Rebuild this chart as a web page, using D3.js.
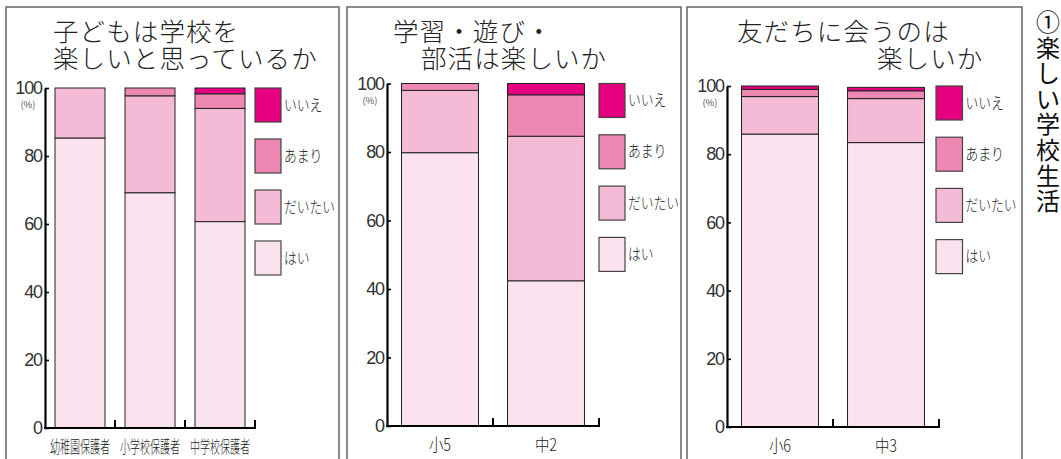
<!DOCTYPE html>
<html><head><meta charset="utf-8">
<script src="https://cdn.jsdelivr.net/npm/d3@7"></script>
<style>
html,body{margin:0;padding:0;background:#fff;}
body{position:relative;width:1061px;height:459px;overflow:hidden;}
svg{display:block;}
.ttl{position:absolute;white-space:pre;font-family:'Noto Sans CJK JP',sans-serif;
  font-size:25.5px;line-height:27px;font-weight:300;letter-spacing:1.1px;color:#222;}
#side{position:absolute;left:1035px;top:8px;width:26px;font-family:'Noto Sans CJK JP',sans-serif;
  font-size:24px;line-height:25.6px;text-align:center;word-break:break-all;white-space:normal;color:#111;}
</style>
</head><body>
<svg id="chart" width="1061" height="459"></svg>
<div id="side"></div>
<script>
// ---- data ----
const seriesKeys = ["はい", "だいたい", "あまり", "いいえ"];
const legendLabels = ["いいえ", "あまり", "だいたい", "はい"];
const yTicks = [0, 20, 40, 60, 80, 100];

const p1Title = ["子どもは学校を", "楽しいと思っているか"];
const p1Categories = ["幼稚園保護者", "小学校保護者", "中学校保護者"];
const p1Hai    = [85.3, 69.2, 60.7];
const p1Daitai = [14.7, 28.5, 33.3];
const p1Amari  = [0.0, 2.3, 4.3];
const p1Iie    = [0.0, 0.0, 1.7];

const p2Title = ["学習・遊び・", "部活は楽しいか"];
const p2Categories = ["小5", "中2"];
const p2Hai    = [79.8, 42.4];
const p2Daitai = [18.2, 42.2];
const p2Amari  = [2.0, 12.1];
const p2Iie    = [0.0, 3.3];

const p3Title = ["友だちに会うのは", "楽しいか"];
const p3Categories = ["小6", "中3"];
const p3Hai    = [85.9, 83.4];
const p3Daitai = [11.0, 12.9];
const p3Amari  = [2.1, 2.3];
const p3Iie    = [1.0, 1.0];

const sideTitle = "①楽しい学校生活";

// ---- styles ----
const colors = {"はい": "#fae3ee", "だいたい": "#f5bbd6", "あまり": "#ed88b2", "いいえ": "#e4007f"};
const jp = "'Noto Sans CJK JP', sans-serif";
const num = "'Liberation Sans', Arial, sans-serif";
const ink = "#222";

const svg = d3.select("#chart");
const body = d3.select("body");

const panels = [
  {title: p1Title, cats: p1Categories, vals: [p1Hai, p1Daitai, p1Amari, p1Iie],
   frame: [6, 339], ax: [45, 255], yr: [428, 88], pad: 2/7,
   titleX: [53, 53], legX: 255, legY: 88, legStep: 51, legW: 26, legH: 34,
   catFs: 17, catScale: 0.59},
  {title: p2Title, cats: p2Categories, vals: [p2Hai, p2Daitai, p2Amari, p2Iie],
   frame: [347, 681], ax: [387, 599], yr: [426, 83.5], pad: 0.274,
   titleX: [393, 421], legX: 599, legY: 83.5, legStep: 51.3, legW: 26, legH: 34,
   catFs: 17, catScale: 0.85},
  {title: p3Title, cats: p3Categories, vals: [p3Hai, p3Daitai, p3Amari, p3Iie],
   frame: [687, 1022], ax: [727, 939], yr: [427, 86], pad: 0.274,
   titleX: [737, 877], legX: 936, legY: 86, legStep: 51.2, legW: 26.5, legH: 34,
   catFs: 17, catScale: 0.85}
];

panels.forEach(p => {
  const g = svg.append("g");
  // frame (left, top, right)
  g.append("path")
    .attr("d", `M${p.frame[0]},459V7H${p.frame[1]}V459`)
    .attr("fill", "none").attr("stroke", "#666").attr("stroke-width", 1.5);

  // title: one block, two lines; first line shifted by text-indent
  body.append("div").attr("class", "ttl")
    .style("left", p.titleX[1] + "px").style("top", "16.4px")
    .style("text-indent", (p.titleX[0] - p.titleX[1]) + "px")
    .text(p.title.join("\n"));

  const x = d3.scaleBand().domain(p.cats).range(p.ax)
    .paddingInner(p.pad).paddingOuter(p.pad / 2);
  const y = d3.scaleLinear().domain([0, 100]).range(p.yr);

  // stacked data
  const rows = p.cats.map((c, i) => {
    const r = {cat: c};
    seriesKeys.forEach((k, j) => r[k] = p.vals[j][i]);
    return r;
  });
  const stack = d3.stack().keys(seriesKeys)(rows);

  stack.forEach(s => {
    g.append("g").selectAll("rect")
      .data(s.filter(d => d[1] - d[0] > 0))
      .join("rect")
      .attr("x", d => x(d.data.cat))
      .attr("width", x.bandwidth())
      .attr("y", d => y(d[1]))
      .attr("height", d => y(d[0]) - y(d[1]))
      .attr("fill", colors[s.key])
      .attr("stroke", "#222").attr("stroke-width", 1);
  });

  // y axis
  const yAxis = d3.axisLeft(y).tickValues(yTicks)
    .tickSizeInner(-4).tickSizeOuter(0).tickPadding(3);
  const ya = g.append("g").attr("transform", `translate(${p.ax[0]},0)`).call(yAxis);
  ya.select(".domain").attr("stroke", "#000").attr("stroke-width", 2.2);
  ya.selectAll(".tick line").attr("stroke", "#000").attr("stroke-width", 1.6);
  ya.selectAll(".tick text").attr("font-family", num).attr("font-size", 18)
    .attr("fill", "#333").attr("letter-spacing", -1.1);

  g.append("text").attr("x", p.ax[0] - 17).attr("y", y(100) + 16)
    .attr("text-anchor", "middle").attr("dominant-baseline", "central")
    .attr("font-family", jp).attr("font-size", 9.5).attr("fill", "#555").text("(%)");

  // x axis baseline and upward ticks at band boundaries
  g.append("line").attr("x1", p.ax[0] - 1).attr("x2", p.ax[1] + 1)
    .attr("y1", y(0)).attr("y2", y(0)).attr("stroke", "#000").attr("stroke-width", 2.2);
  const step = x.step();
  p.cats.forEach((c, i) => {
    const bx = p.ax[0] + step * (i + 1);
    g.append("line").attr("x1", bx).attr("x2", bx).attr("y1", y(0)).attr("y2", y(0) - 8)
      .attr("stroke", "#000").attr("stroke-width", 2);
  });

  // category labels
  p.cats.forEach(c => {
    const cx = x(c) + x.bandwidth() / 2;
    g.append("text")
      .attr("transform", `translate(${cx},${y(0) + 18}) scale(${p.catScale},1)`)
      .attr("text-anchor", "middle").attr("dominant-baseline", "central")
      .attr("font-family", jp).attr("font-size", p.catFs).attr("font-weight", 300)
      .attr("fill", ink).text(c);
  });

  // legend
  legendLabels.forEach((lab, i) => {
    const ly = p.legY + i * p.legStep;
    g.append("rect").attr("x", p.legX).attr("y", ly)
      .attr("width", p.legW).attr("height", p.legH)
      .attr("fill", colors[lab]).attr("stroke", "#444").attr("stroke-width", 1.2);
    g.append("text")
      .attr("transform", `translate(${p.legX + p.legW + 3},${ly + p.legH / 2 - 1.5}) scale(0.8,1)`)
      .attr("dominant-baseline", "central")
      .attr("font-family", jp).attr("font-size", 16).attr("font-weight", 300)
      .attr("fill", ink).text(lab);
  });
});

// side title: narrow box, one character per line
d3.select("#side").text(sideTitle);
</script>
</body></html>
